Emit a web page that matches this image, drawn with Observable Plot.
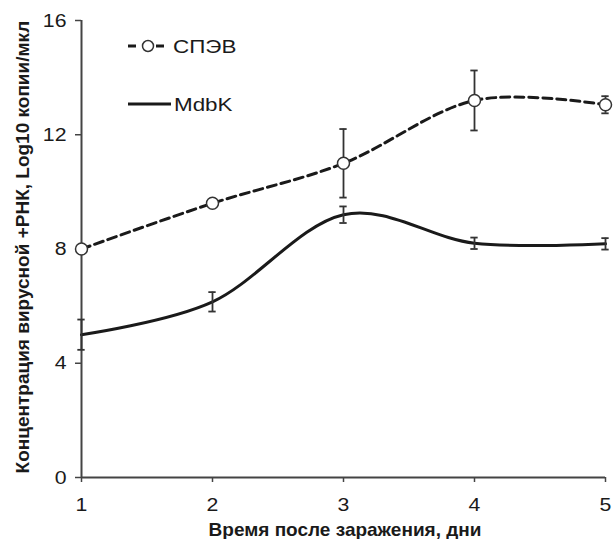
<!DOCTYPE html>
<html><head><meta charset="utf-8">
<script src="https://cdn.jsdelivr.net/npm/d3@7"></script>
<script src="https://cdn.jsdelivr.net/npm/@observablehq/plot@0.6"></script>
<style>body{margin:0;background:#fff} svg{font-family:"Liberation Sans",Arial,sans-serif}</style>
</head><body><div id="chart"></div>
<script>
const days = [1, 2, 3, 4, 5];
const spevMean = [8.0, 9.6, 11.0, 13.2, 13.05];
const spevErr = [0, 0, 1.2, 1.05, 0.3];
const mdbkMean = [5.0, 6.15, 9.2, 8.2, 8.18];
const mdbkErr = [0.53, 0.34, 0.29, 0.2, 0.2];
const xTicks = [1, 2, 3, 4, 5];
const yTicks = [0, 4, 8, 12, 16];
const seriesNames = ["СПЭВ", "MdbK"];
const xLabel = "Время после заражения, дни";
const yLabel = "Концентрация вирусной +РНК, Log10 копии/мкл";

const spev = days.map((d, i) => ({day: d, v: spevMean[i], e: spevErr[i]}));
const mdbk = days.map((d, i) => ({day: d, v: mdbkMean[i], e: mdbkErr[i]}));
const capW = 0.028;
const errs = (data) => data.filter(d => d.e > 0);
const ink = "#1a1a1a";

const plot = Plot.plot({
  width: 613, height: 539,
  marginLeft: 81, marginRight: 8, marginTop: 20, marginBottom: 62,
  x: {domain: [1, 5]},
  y: {domain: [0, 16]},
  style: {fontFamily: '"Liberation Sans", Arial, sans-serif', color: ink, background: "#fff"},
  marks: [
    Plot.axisX({ticks: xTicks, tickSize: 5, tickPadding: 15, label: null, fontSize: 19, tickFormat: d => String(d), stroke: "#444", strokeWidth: 1.5}),
    Plot.axisY({ticks: yTicks, tickSize: 6, tickPadding: 9, label: null, fontSize: 19, stroke: "#444", strokeWidth: 1.5}),
    Plot.ruleY([0], {stroke: "#444", strokeWidth: 2}),
    Plot.ruleX([1], {stroke: "#444", strokeWidth: 2}),
    Plot.lineY(mdbk, {x: "day", y: "v", curve: "cardinal", tension: 0, stroke: ink, strokeWidth: 3}),
    Plot.ruleX(errs(mdbk), {x: "day", y1: d => d.v - d.e, y2: d => d.v + d.e, stroke: "#333", strokeWidth: 1.8}),
    Plot.ruleY(errs(mdbk), {y: d => d.v + d.e, x1: d => d.day - capW, x2: d => d.day + capW, stroke: "#333", strokeWidth: 1.8}),
    Plot.ruleY(errs(mdbk), {y: d => d.v - d.e, x1: d => d.day - capW, x2: d => d.day + capW, stroke: "#333", strokeWidth: 1.8}),
    Plot.lineY(spev, {x: "day", y: "v", curve: "cardinal", tension: 0, stroke: ink, strokeWidth: 3, strokeDasharray: "9,5"}),
    Plot.ruleX(errs(spev), {x: "day", y1: d => d.v - d.e, y2: d => d.v + d.e, stroke: "#333", strokeWidth: 1.8}),
    Plot.ruleY(errs(spev), {y: d => d.v + d.e, x1: d => d.day - capW, x2: d => d.day + capW, stroke: "#333", strokeWidth: 1.8}),
    Plot.ruleY(errs(spev), {y: d => d.v - d.e, x1: d => d.day - capW, x2: d => d.day + capW, stroke: "#333", strokeWidth: 1.8}),
    Plot.dot(spev, {x: "day", y: "v", r: 6, fill: "white", stroke: "#333", strokeWidth: 1.5})
  ]
});

const svg = d3.select(plot);
// widen tick labels horizontally (reference glyphs are stretched)
const sx = 1.12;
svg.selectAll('g[aria-label$="tick label"] text').each(function () {
  const t = d3.select(this);
  const tr = t.attr("transform") || "";
  const x = +(t.attr("x") || 0);
  t.attr("x", x / sx).attr("transform", (tr + ` scale(${sx},1)`).trim());
});
// Axis titles
svg.append("text").attr("x", 345).attr("y", 536).attr("text-anchor", "middle")
  .attr("font-size", 19).attr("font-weight", "bold").attr("fill", ink).text(xLabel);
svg.append("text").attr("transform", "translate(29,247) rotate(-90)").attr("text-anchor", "middle")
  .attr("font-size", 19).attr("font-weight", "bold").attr("fill", ink).text(yLabel);
// Legend
const lg = svg.append("g").attr("text-anchor", "start");
lg.append("line").attr("x1", 128).attr("x2", 170).attr("y1", 46).attr("y2", 46)
  .attr("stroke", ink).attr("stroke-width", 3).attr("stroke-dasharray", "8,6");
lg.append("circle").attr("cx", 148).attr("cy", 46).attr("r", 5.5).attr("fill", "white").attr("stroke", "#333").attr("stroke-width", 1.5);
lg.append("text").attr("transform", "translate(173,53) scale(1.18,1)").attr("font-size", 19).attr("fill", ink).text(seriesNames[0]);
lg.append("line").attr("x1", 128).attr("x2", 171).attr("y1", 104).attr("y2", 104)
  .attr("stroke", ink).attr("stroke-width", 3);
lg.append("text").attr("transform", "translate(174,111) scale(1.18,1)").attr("font-size", 19).attr("fill", ink).text(seriesNames[1]);

document.getElementById("chart").append(plot);
</script>
</body></html>
